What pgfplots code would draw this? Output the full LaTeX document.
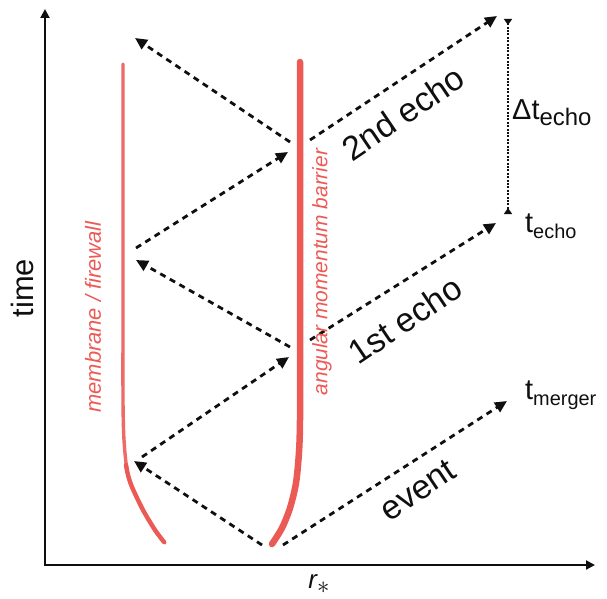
\documentclass[border=0pt]{standalone}
\usepackage{fontspec}
\setmainfont{Liberation Sans}
\usepackage{pgfplots}
\pgfplotsset{compat=1.18}
\usetikzlibrary{arrows.meta}
\definecolor{wred}{RGB}{236,90,86}
\definecolor{ink}{RGB}{15,15,15}
\newcommand{\fs}[1]{\fontsize{#1}{#1}\selectfont}
\begin{document}
\begin{tikzpicture}
\begin{axis}[width=607bp,height=599bp,scale only axis,
  xmin=0,xmax=607,ymin=0,ymax=599,y dir=reverse,hide axis,clip=false,
  ar/.style={ink,line width=2.8bp,dash pattern=on 6bp off 5bp,no markers,
    -{Triangle[length=12bp,width=11bp]}}]
% axes
\addplot[ink,line width=2bp,no markers,-{Triangle[length=9bp,width=9bp]}] coordinates {(45,566) (45,9)};
\addplot[ink,line width=2bp,no markers,-{Triangle[length=9bp,width=9bp]}] coordinates {(44,565) (595,565)};
% membrane / firewall
\addplot[wred,line width=3.4bp,smooth,no markers,line cap=round,opacity=0.9] coordinates {(123,64) (123,200) (123,300) (123,400) (124,440) (127,470) (132,487) (143,510) (155,530) (165,543)};
\addplot[wred,line width=4.4bp,smooth,no markers,line cap=round] coordinates {(126,465) (128,475) (132,487) (143,510) (155,530) (164,542)};
% angular momentum barrier
\addplot[wred,line width=6.5bp,smooth,no markers,line cap=round] coordinates {(300,62) (300,200) (300,350) (300,420) (299,452) (296,483) (290,508) (282,528) (272,544)};
% rays
\addplot[ar] coordinates {(262,545) (134,461)};
\addplot[ar] coordinates {(283,545) (507,401)};
\addplot[ar] coordinates {(142,457) (289,357)};
\addplot[ar] coordinates {(290,347) (136,260)};
\addplot[ar] coordinates {(310,340) (496,223)};
\addplot[ar] coordinates {(136,248) (288,152)};
\addplot[ar] coordinates {(290,142) (135,38)};
\addplot[ar] coordinates {(310,140) (497,16)};
% delta t
\addplot[ink,line width=2.6bp,no markers,dash pattern=on 2bp off 1.4bp,
  {Triangle[reversed,length=6bp,width=8bp]}-{Triangle[reversed,length=6bp,width=8bp]}] coordinates {(508,19) (508,214)};
% labels
\node[rotate=90,ink,font=\fs{31}] at (axis cs:22,288) {time};
\node[ink,font=\fs{26}\itshape] at (axis cs:319,584) {r\raisebox{-5bp}{\fs{24}$\ast$}};
\node[rotate=90,wred,font=\fs{22}\itshape] at (axis cs:93,317) {membrane / firewall};
\node[rotate=90,wred,font=\fs{21}\itshape] at (axis cs:322,272) {angular momentum barrier};
\node[rotate=34,ink,font=\fs{34}] at (axis cs:403,113) {2nd echo};
\node[rotate=34,ink,font=\fs{34}] at (axis cs:405,320) {1st echo};
\node[rotate=34,ink,font=\fs{34}] at (axis cs:418,490) {event};
\node[anchor=west,ink,inner sep=0pt,font=\fs{29}] at (axis cs:512,113) {Δt\raisebox{-6bp}{\fs{24}echo}};
\node[anchor=west,ink,inner sep=0pt,font=\fs{29}] at (axis cs:525,226) {t\raisebox{-6bp}{\fs{20}echo}};
\node[anchor=west,ink,inner sep=0pt,font=\fs{29}] at (axis cs:525,395) {t\raisebox{-6bp}{\fs{20}merger}};
\end{axis}
\pgfresetboundingbox
\path (current axis.south west) rectangle (current axis.north east);
\end{tikzpicture}
\end{document}
